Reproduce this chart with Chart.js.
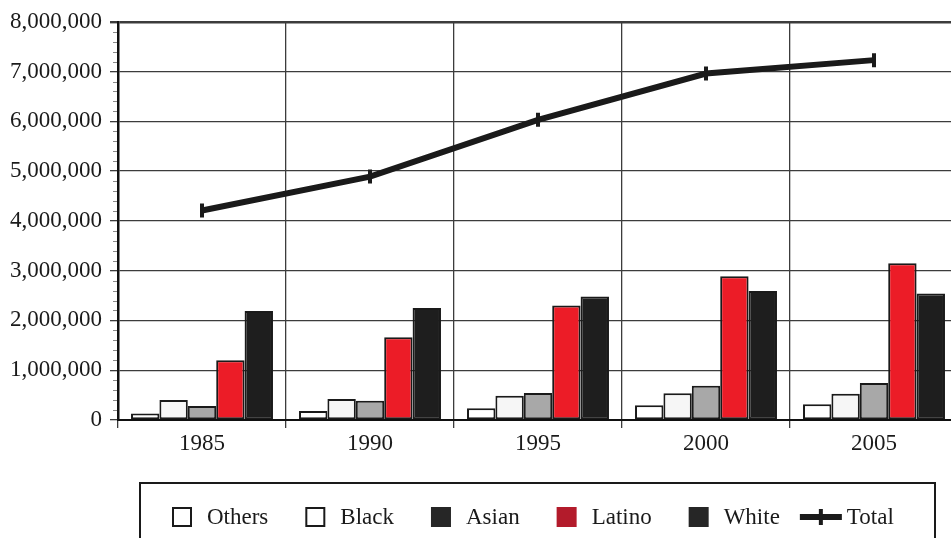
<!DOCTYPE html>
<html>
<head>
<meta charset="utf-8">
<script src="https://cdn.jsdelivr.net/npm/chart.js@4"></script>
<style>
  html, body { margin: 0; padding: 0; background: #fff; overflow: hidden; }
  #wrap { position: relative; width: 975px; height: 538px; }
</style>
</head>
<body>
<div id="wrap"><canvas id="c"></canvas></div>
<script>
// Population by group, 1985-2005
const years  = ['1985', '1990', '1995', '2000', '2005'];
const others = [130000, 180000, 234000, 294000, 314000];
const black  = [400000, 420000, 487000, 535000, 528000];
const asian  = [280000, 387000, 540000, 688000, 741000];
const latino = [1200000, 1660000, 2300000, 2886000, 3150000];
const white  = [2190000, 2250000, 2480000, 2590000, 2540000];
const total  = [4210000, 4890000, 6030000, 6960000, 7230000];

const yMax = 8000000;
const majorStep = 1000000;
const minorStep = 200000;

const INK = '#1a1a1a';
const FONT = "'Liberation Serif', 'Times New Roman', serif";

// short minor ticks on the left of the value axis
const minorTicks = {
  id: 'minorTicks',
  afterDraw(chart) {
    const y = chart.scales.y, ctx = chart.ctx, left = chart.chartArea.left;
    ctx.save();
    ctx.strokeStyle = '#8a8a8a';
    ctx.lineWidth = 1;
    for (let v = y.min; v <= y.max; v += minorStep) {
      if (v % majorStep === 0) continue;
      const py = Math.round(y.getPixelForValue(v)) + 0.5;
      ctx.beginPath();
      ctx.moveTo(left - 5, py);
      ctx.lineTo(left - 1, py);
      ctx.stroke();
    }
    ctx.restore();
  }
};

// framed legend row under the axis
const boxLegend = {
  id: 'boxLegend',
  afterDraw(chart) {
    const ctx = chart.ctx;
    const top = chart.chartArea.bottom + 63;
    ctx.save();
    ctx.strokeStyle = INK;
    ctx.lineWidth = 2;
    ctx.strokeRect(140, top, 795, 120);

    ctx.font = '23px ' + FONT;
    ctx.textBaseline = 'middle';
    ctx.fillStyle = INK;
    const cy = top + 34;
    let x = 172;
    chart.data.datasets.forEach((ds, i) => {
      const isLine = ds.type === 'line';
      if (i > 0) x += isLine ? 20 : 37;
      if (isLine) {
        ctx.fillStyle = INK;
        ctx.fillRect(x, cy - 3, 42, 6);
        ctx.fillRect(x + 19, cy - 8, 4, 16);
        x += 47;
      } else {
        ctx.fillStyle = ds.legendColor;
        ctx.fillRect(x, cy - 10, 20, 20);
        if (ds.legendStroke) {
          ctx.strokeStyle = INK;
          ctx.lineWidth = 2;
          ctx.strokeRect(x + 1, cy - 9, 18, 18);
        }
        x += 35;
      }
      ctx.fillStyle = INK;
      ctx.fillText(ds.label, x, cy + 1);
      x += ctx.measureText(ds.label).width;
    });
    ctx.restore();
  }
};

function barSet(label, data, fill, legendColor, legendStroke) {
  return {
    type: 'bar', label, data,
    backgroundColor: fill,
    borderColor: INK,
    borderWidth: 2,
    borderSkipped: false,
    categoryPercentage: 0.845,
    barPercentage: 1.0,
    legendColor, legendStroke,
    order: 1
  };
}

new Chart(document.getElementById('c'), {
  data: {
    labels: years,
    datasets: [
      barSet('Others', others, '#ffffff', '#ffffff', true),
      barSet('Black',  black,  '#f6f6f6', '#ffffff', true),
      barSet('Asian',  asian,  '#a8a8a8', '#262626', false),
      barSet('Latino', latino, '#ec1c27', '#b31b2b', false),
      barSet('White',  white,  '#1e1e1e', '#262626', false),
      {
        type: 'line', label: 'Total', data: total,
        borderColor: INK, borderWidth: 6,
        tension: 0,
        pointStyle: 'line', rotation: 90,
        pointRadius: 7, pointBorderWidth: 4,
        pointBorderColor: INK, pointBackgroundColor: INK,
        order: 0
      }
    ]
  },
  options: {
    responsive: true,
    maintainAspectRatio: false,
    animation: false,
    layout: { padding: { left: 0, top: 21, right: 17, bottom: 78 } },
    plugins: { legend: { display: false }, tooltip: { enabled: false } },
    scales: {
      x: {
        afterFit(scale) { scale.height = 40; },
        grid: {
          offset: true,
          color: '#3c3c3c',
          lineWidth: 1.3,
          tickLength: 8,
          tickColor: '#3c3c3c'
        },
        border: { color: '#111', width: 2 },
        ticks: { color: INK, padding: 2, font: { family: FONT, size: 23 } }
      },
      y: {
        min: 0, max: yMax,
        afterFit(scale) { scale.width = 118; },
        grid: {
          color: '#3c3c3c',
          lineWidth: (c) => (c.tick && c.tick.value === yMax ? 2.4 : 1.3),
          tickLength: 8,
          tickColor: '#3c3c3c'
        },
        border: { color: '#111', width: 2.5 },
        ticks: {
          stepSize: majorStep,
          color: INK,
          padding: 8,
          font: { family: FONT, size: 23 },
          callback: (v) => Number(v).toLocaleString('en-US')
        }
      }
    }
  },
  plugins: [minorTicks, boxLegend]
});
</script>
</body>
</html>
